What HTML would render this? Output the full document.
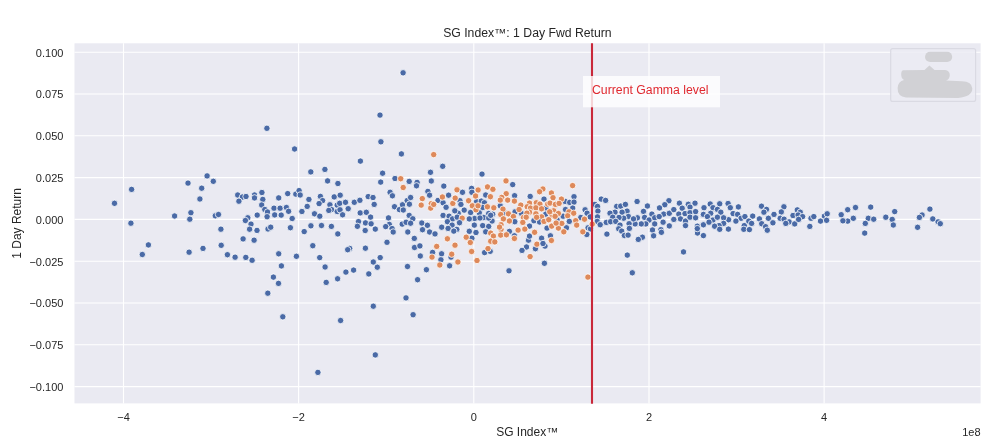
<!DOCTYPE html>
<html lang="en"><head><meta charset="utf-8"><title>SG Index: 1 Day Fwd Return</title>
<style>
html,body{margin:0;padding:0;background:#fff;}
body{width:1000px;height:447px;overflow:hidden;}
svg{display:block;font-family:"Liberation Sans",sans-serif;}
.tk{font-size:11px;fill:#262626;}
.lb{font-size:12px;fill:#262626;}
.b{fill:#4a6aa6;stroke:#fff;stroke-width:.8;}
.o{fill:#de895a;stroke:#fff;stroke-width:.8;}
</style></head><body>
<svg width="1000" height="447" viewBox="0 0 1000 447">
<rect x="0" y="0" width="1000" height="447" fill="#ffffff"/>
<rect x="74.5" y="43.3" width="906.1" height="360.1" fill="#eaeaf2"/>
<path d="M123.5 43.3V403.4M298.6 43.3V403.4M473.8 43.3V403.4M649.0 43.3V403.4M824.1 43.3V403.4M74.5 52.2H980.6M74.5 94.0H980.6M74.5 135.8H980.6M74.5 177.6H980.6M74.5 219.4H980.6M74.5 261.2H980.6M74.5 303.0H980.6M74.5 344.8H980.6M74.5 386.6H980.6" stroke="#ffffff" stroke-width="1.1" fill="none"/>
<text class="tk" x="123.5" y="420.7" text-anchor="middle">−4</text>
<text class="tk" x="298.6" y="420.7" text-anchor="middle">−2</text>
<text class="tk" x="473.8" y="420.7" text-anchor="middle">0</text>
<text class="tk" x="649.0" y="420.7" text-anchor="middle">2</text>
<text class="tk" x="824.1" y="420.7" text-anchor="middle">4</text>
<text class="tk" x="63.4" y="56.6" text-anchor="end">0.100</text>
<text class="tk" x="63.4" y="98.4" text-anchor="end">0.075</text>
<text class="tk" x="63.4" y="140.2" text-anchor="end">0.050</text>
<text class="tk" x="63.4" y="182.0" text-anchor="end">0.025</text>
<text class="tk" x="63.4" y="223.8" text-anchor="end">0.000</text>
<text class="tk" x="63.4" y="265.6" text-anchor="end">−0.025</text>
<text class="tk" x="63.4" y="307.4" text-anchor="end">−0.050</text>
<text class="tk" x="63.4" y="349.2" text-anchor="end">−0.075</text>
<text class="tk" x="63.4" y="391.0" text-anchor="end">−0.100</text>
<text class="tk" x="980.6" y="435.5" text-anchor="end">1e8</text>
<text class="lb" x="527.4" y="36.6" text-anchor="middle" textLength="168.5" lengthAdjust="spacingAndGlyphs">SG Index™: 1 Day Fwd Return</text>
<text class="lb" x="527.2" y="436.4" text-anchor="middle">SG Index™</text>
<text class="lb" transform="translate(21.3 223.4) rotate(-90)" text-anchor="middle">1 Day Return</text>
<g>
<circle class="b" cx="266.9" cy="128.3" r="3.2"/>
<circle class="b" cx="403.1" cy="72.8" r="3.2"/>
<circle class="b" cx="380.0" cy="115.1" r="3.2"/>
<circle class="b" cx="380.9" cy="141.8" r="3.2"/>
<circle class="b" cx="294.6" cy="149.0" r="3.2"/>
<circle class="b" cx="207.1" cy="175.9" r="3.2"/>
<circle class="b" cx="213.3" cy="181.3" r="3.2"/>
<circle class="b" cx="188.0" cy="183.1" r="3.2"/>
<circle class="b" cx="131.6" cy="189.4" r="3.2"/>
<circle class="b" cx="201.7" cy="188.2" r="3.2"/>
<circle class="b" cx="199.9" cy="199.0" r="3.2"/>
<circle class="b" cx="114.5" cy="203.3" r="3.2"/>
<circle class="b" cx="237.7" cy="195.0" r="3.2"/>
<circle class="b" cx="242.4" cy="197.0" r="3.2"/>
<circle class="b" cx="246.0" cy="196.5" r="3.2"/>
<circle class="b" cx="238.9" cy="201.2" r="3.2"/>
<circle class="b" cx="254.5" cy="195.0" r="3.2"/>
<circle class="b" cx="254.5" cy="197.9" r="3.2"/>
<circle class="b" cx="261.9" cy="192.5" r="3.2"/>
<circle class="b" cx="262.8" cy="199.4" r="3.2"/>
<circle class="b" cx="261.7" cy="205.0" r="3.2"/>
<circle class="b" cx="278.7" cy="197.9" r="3.2"/>
<circle class="b" cx="287.7" cy="193.6" r="3.2"/>
<circle class="b" cx="295.8" cy="194.1" r="3.2"/>
<circle class="b" cx="264.8" cy="209.5" r="3.2"/>
<circle class="b" cx="267.5" cy="212.0" r="3.2"/>
<circle class="b" cx="274.0" cy="208.2" r="3.2"/>
<circle class="b" cx="280.1" cy="208.2" r="3.2"/>
<circle class="b" cx="286.4" cy="207.5" r="3.2"/>
<circle class="b" cx="288.6" cy="211.3" r="3.2"/>
<circle class="b" cx="274.7" cy="214.9" r="3.2"/>
<circle class="b" cx="281.2" cy="215.1" r="3.2"/>
<circle class="b" cx="267.1" cy="216.7" r="3.2"/>
<circle class="b" cx="257.2" cy="215.1" r="3.2"/>
<circle class="b" cx="247.8" cy="217.8" r="3.2"/>
<circle class="b" cx="245.4" cy="220.5" r="3.2"/>
<circle class="b" cx="292.2" cy="218.5" r="3.2"/>
<circle class="b" cx="251.0" cy="224.1" r="3.2"/>
<circle class="b" cx="249.6" cy="229.2" r="3.2"/>
<circle class="b" cx="257.0" cy="230.4" r="3.2"/>
<circle class="b" cx="268.0" cy="229.0" r="3.2"/>
<circle class="b" cx="270.7" cy="227.2" r="3.2"/>
<circle class="b" cx="290.4" cy="227.7" r="3.2"/>
<circle class="b" cx="174.6" cy="216.0" r="3.2"/>
<circle class="b" cx="190.9" cy="212.7" r="3.2"/>
<circle class="b" cx="189.8" cy="219.2" r="3.2"/>
<circle class="b" cx="215.3" cy="215.8" r="3.2"/>
<circle class="b" cx="218.5" cy="214.5" r="3.2"/>
<circle class="b" cx="220.9" cy="229.2" r="3.2"/>
<circle class="b" cx="130.9" cy="223.2" r="3.2"/>
<circle class="b" cx="243.1" cy="238.9" r="3.2"/>
<circle class="b" cx="254.1" cy="240.2" r="3.2"/>
<circle class="b" cx="401.4" cy="153.9" r="3.2"/>
<circle class="b" cx="360.4" cy="161.1" r="3.2"/>
<circle class="b" cx="324.9" cy="169.4" r="3.2"/>
<circle class="b" cx="310.8" cy="171.9" r="3.2"/>
<circle class="b" cx="382.6" cy="173.2" r="3.2"/>
<circle class="b" cx="395.0" cy="178.5" r="3.2"/>
<circle class="b" cx="380.7" cy="182.1" r="3.2"/>
<circle class="b" cx="327.6" cy="180.9" r="3.2"/>
<circle class="b" cx="337.9" cy="183.5" r="3.2"/>
<circle class="b" cx="409.2" cy="181.4" r="3.2"/>
<circle class="b" cx="299.1" cy="190.6" r="3.2"/>
<circle class="b" cx="390.1" cy="192.3" r="3.2"/>
<circle class="o" cx="400.7" cy="178.7" r="3.2"/>
<circle class="o" cx="403.2" cy="187.5" r="3.2"/>
<circle class="b" cx="442.7" cy="166.3" r="3.2"/>
<circle class="b" cx="430.5" cy="172.3" r="3.2"/>
<circle class="b" cx="482.0" cy="174.1" r="3.2"/>
<circle class="b" cx="431.3" cy="181.0" r="3.2"/>
<circle class="b" cx="417.1" cy="182.4" r="3.2"/>
<circle class="b" cx="416.5" cy="185.8" r="3.2"/>
<circle class="b" cx="443.8" cy="186.1" r="3.2"/>
<circle class="b" cx="512.7" cy="184.6" r="3.2"/>
<circle class="b" cx="471.6" cy="188.4" r="3.2"/>
<circle class="b" cx="427.9" cy="191.4" r="3.2"/>
<circle class="o" cx="433.7" cy="154.6" r="3.2"/>
<circle class="o" cx="506.0" cy="180.9" r="3.2"/>
<circle class="o" cx="487.5" cy="186.9" r="3.2"/>
<circle class="o" cx="492.9" cy="189.3" r="3.2"/>
<circle class="o" cx="478.1" cy="190.0" r="3.2"/>
<circle class="o" cx="457.0" cy="189.8" r="3.2"/>
<circle class="b" cx="300.2" cy="195.0" r="3.2"/>
<circle class="b" cx="308.9" cy="199.4" r="3.2"/>
<circle class="b" cx="320.4" cy="196.4" r="3.2"/>
<circle class="b" cx="322.6" cy="200.6" r="3.2"/>
<circle class="b" cx="319.1" cy="203.6" r="3.2"/>
<circle class="b" cx="307.2" cy="206.4" r="3.2"/>
<circle class="b" cx="301.9" cy="211.5" r="3.2"/>
<circle class="b" cx="314.5" cy="213.8" r="3.2"/>
<circle class="b" cx="319.8" cy="216.2" r="3.2"/>
<circle class="b" cx="334.2" cy="196.9" r="3.2"/>
<circle class="b" cx="340.2" cy="195.2" r="3.2"/>
<circle class="b" cx="329.9" cy="204.8" r="3.2"/>
<circle class="b" cx="337.2" cy="205.1" r="3.2"/>
<circle class="b" cx="339.7" cy="203.3" r="3.2"/>
<circle class="b" cx="331.6" cy="209.6" r="3.2"/>
<circle class="b" cx="328.8" cy="210.4" r="3.2"/>
<circle class="b" cx="337.2" cy="211.5" r="3.2"/>
<circle class="b" cx="340.0" cy="209.8" r="3.2"/>
<circle class="b" cx="342.6" cy="214.8" r="3.2"/>
<circle class="b" cx="345.5" cy="202.3" r="3.2"/>
<circle class="b" cx="348.2" cy="208.7" r="3.2"/>
<circle class="b" cx="354.3" cy="202.3" r="3.2"/>
<circle class="b" cx="359.9" cy="200.3" r="3.2"/>
<circle class="b" cx="368.2" cy="196.6" r="3.2"/>
<circle class="b" cx="373.0" cy="197.5" r="3.2"/>
<circle class="b" cx="374.2" cy="204.4" r="3.2"/>
<circle class="b" cx="360.2" cy="212.9" r="3.2"/>
<circle class="b" cx="366.3" cy="212.3" r="3.2"/>
<circle class="b" cx="370.6" cy="217.1" r="3.2"/>
<circle class="b" cx="358.5" cy="221.6" r="3.2"/>
<circle class="b" cx="365.5" cy="222.9" r="3.2"/>
<circle class="b" cx="371.1" cy="223.8" r="3.2"/>
<circle class="b" cx="357.4" cy="226.3" r="3.2"/>
<circle class="b" cx="375.3" cy="229.1" r="3.2"/>
<circle class="b" cx="365.2" cy="230.5" r="3.2"/>
<circle class="b" cx="392.4" cy="195.8" r="3.2"/>
<circle class="b" cx="394.5" cy="206.7" r="3.2"/>
<circle class="b" cx="399.4" cy="209.6" r="3.2"/>
<circle class="b" cx="402.5" cy="204.8" r="3.2"/>
<circle class="b" cx="403.3" cy="210.0" r="3.2"/>
<circle class="b" cx="407.2" cy="200.6" r="3.2"/>
<circle class="b" cx="409.4" cy="204.2" r="3.2"/>
<circle class="b" cx="388.5" cy="217.9" r="3.2"/>
<circle class="b" cx="409.2" cy="215.4" r="3.2"/>
<circle class="b" cx="389.3" cy="224.4" r="3.2"/>
<circle class="b" cx="385.7" cy="226.6" r="3.2"/>
<circle class="b" cx="392.1" cy="228.6" r="3.2"/>
<circle class="b" cx="393.2" cy="232.0" r="3.2"/>
<circle class="b" cx="402.2" cy="224.1" r="3.2"/>
<circle class="b" cx="406.1" cy="222.3" r="3.2"/>
<circle class="b" cx="407.8" cy="232.0" r="3.2"/>
<circle class="b" cx="310.9" cy="225.8" r="3.2"/>
<circle class="b" cx="321.5" cy="225.5" r="3.2"/>
<circle class="b" cx="331.4" cy="226.4" r="3.2"/>
<circle class="b" cx="304.2" cy="231.6" r="3.2"/>
<circle class="b" cx="337.8" cy="233.9" r="3.2"/>
<circle class="b" cx="387.0" cy="242.3" r="3.2"/>
<circle class="b" cx="429.6" cy="195.2" r="3.2"/>
<circle class="b" cx="410.6" cy="197.5" r="3.2"/>
<circle class="b" cx="421.8" cy="223.0" r="3.2"/>
<circle class="b" cx="427.4" cy="225.3" r="3.2"/>
<circle class="b" cx="422.5" cy="229.7" r="3.2"/>
<circle class="b" cx="429.6" cy="232.0" r="3.2"/>
<circle class="b" cx="414.3" cy="238.4" r="3.2"/>
<circle class="b" cx="412.8" cy="218.8" r="3.2"/>
<circle class="b" cx="410.6" cy="223.2" r="3.2"/>
<circle class="o" cx="422.3" cy="198.6" r="3.2"/>
<circle class="o" cx="421.2" cy="205.1" r="3.2"/>
<circle class="o" cx="431.3" cy="203.6" r="3.2"/>
<circle class="o" cx="430.7" cy="208.1" r="3.2"/>
<circle class="o" cx="572.6" cy="185.6" r="3.2"/>
<circle class="o" cx="542.9" cy="189.0" r="3.2"/>
<circle class="b" cx="637.1" cy="201.5" r="3.2"/>
<circle class="b" cx="668.9" cy="200.7" r="3.2"/>
<circle class="b" cx="664.8" cy="204.7" r="3.2"/>
<circle class="b" cx="647.4" cy="206.0" r="3.2"/>
<circle class="b" cx="659.5" cy="207.9" r="3.2"/>
<circle class="b" cx="643.5" cy="211.4" r="3.2"/>
<circle class="b" cx="651.9" cy="214.1" r="3.2"/>
<circle class="b" cx="663.7" cy="214.1" r="3.2"/>
<circle class="b" cx="669.3" cy="213.3" r="3.2"/>
<circle class="b" cx="673.8" cy="209.6" r="3.2"/>
<circle class="b" cx="679.4" cy="203.2" r="3.2"/>
<circle class="b" cx="688.3" cy="204.3" r="3.2"/>
<circle class="b" cx="695.0" cy="203.2" r="3.2"/>
<circle class="b" cx="690.0" cy="207.1" r="3.2"/>
<circle class="b" cx="682.2" cy="208.2" r="3.2"/>
<circle class="b" cx="678.8" cy="214.1" r="3.2"/>
<circle class="b" cx="685.0" cy="213.6" r="3.2"/>
<circle class="b" cx="690.0" cy="212.7" r="3.2"/>
<circle class="b" cx="695.6" cy="211.6" r="3.2"/>
<circle class="b" cx="704.0" cy="207.7" r="3.2"/>
<circle class="b" cx="710.2" cy="204.0" r="3.2"/>
<circle class="b" cx="713.0" cy="207.7" r="3.2"/>
<circle class="b" cx="719.7" cy="203.8" r="3.2"/>
<circle class="b" cx="717.4" cy="209.4" r="3.2"/>
<circle class="b" cx="720.8" cy="212.2" r="3.2"/>
<circle class="b" cx="710.7" cy="213.3" r="3.2"/>
<circle class="b" cx="703.4" cy="214.4" r="3.2"/>
<circle class="b" cx="707.4" cy="216.6" r="3.2"/>
<circle class="b" cx="713.0" cy="220.0" r="3.2"/>
<circle class="b" cx="717.4" cy="217.2" r="3.2"/>
<circle class="b" cx="728.1" cy="203.5" r="3.2"/>
<circle class="b" cx="730.3" cy="207.7" r="3.2"/>
<circle class="b" cx="738.4" cy="206.9" r="3.2"/>
<circle class="b" cx="733.1" cy="213.6" r="3.2"/>
<circle class="b" cx="737.6" cy="214.4" r="3.2"/>
<circle class="b" cx="741.0" cy="218.3" r="3.2"/>
<circle class="b" cx="735.9" cy="221.1" r="3.2"/>
<circle class="b" cx="728.6" cy="219.7" r="3.2"/>
<circle class="b" cx="723.6" cy="217.8" r="3.2"/>
<circle class="b" cx="723.6" cy="223.4" r="3.2"/>
<circle class="b" cx="719.1" cy="225.6" r="3.2"/>
<circle class="b" cx="744.9" cy="216.6" r="3.2"/>
<circle class="b" cx="744.3" cy="225.6" r="3.2"/>
<circle class="b" cx="637.4" cy="217.8" r="3.2"/>
<circle class="b" cx="644.6" cy="217.4" r="3.2"/>
<circle class="b" cx="649.1" cy="220.0" r="3.2"/>
<circle class="b" cx="654.7" cy="217.8" r="3.2"/>
<circle class="b" cx="659.2" cy="216.6" r="3.2"/>
<circle class="b" cx="663.1" cy="222.2" r="3.2"/>
<circle class="b" cx="654.7" cy="223.9" r="3.2"/>
<circle class="b" cx="645.8" cy="223.9" r="3.2"/>
<circle class="b" cx="641.3" cy="223.9" r="3.2"/>
<circle class="b" cx="635.1" cy="223.9" r="3.2"/>
<circle class="b" cx="673.8" cy="219.4" r="3.2"/>
<circle class="b" cx="680.5" cy="218.9" r="3.2"/>
<circle class="b" cx="685.5" cy="221.1" r="3.2"/>
<circle class="b" cx="690.0" cy="217.2" r="3.2"/>
<circle class="b" cx="695.6" cy="217.8" r="3.2"/>
<circle class="b" cx="685.5" cy="225.6" r="3.2"/>
<circle class="b" cx="669.3" cy="225.9" r="3.2"/>
<circle class="b" cx="697.3" cy="226.2" r="3.2"/>
<circle class="b" cx="703.4" cy="224.8" r="3.2"/>
<circle class="b" cx="709.0" cy="222.2" r="3.2"/>
<circle class="b" cx="714.6" cy="226.2" r="3.2"/>
<circle class="b" cx="526.5" cy="247.0" r="3.2"/>
<circle class="b" cx="535.4" cy="248.7" r="3.2"/>
<circle class="b" cx="545.0" cy="246.1" r="3.2"/>
<circle class="b" cx="544.4" cy="263.3" r="3.2"/>
<circle class="b" cx="627.3" cy="255.1" r="3.2"/>
<circle class="b" cx="632.3" cy="272.8" r="3.2"/>
<circle class="b" cx="522.0" cy="250.4" r="3.2"/>
<circle class="o" cx="536.9" cy="244.2" r="3.2"/>
<circle class="o" cx="530.1" cy="256.6" r="3.2"/>
<circle class="o" cx="587.9" cy="277.1" r="3.2"/>
<circle class="b" cx="652.5" cy="230.0" r="3.2"/>
<circle class="b" cx="660.9" cy="229.7" r="3.2"/>
<circle class="b" cx="661.4" cy="232.3" r="3.2"/>
<circle class="b" cx="653.6" cy="235.8" r="3.2"/>
<circle class="b" cx="642.4" cy="237.2" r="3.2"/>
<circle class="b" cx="638.3" cy="239.4" r="3.2"/>
<circle class="b" cx="683.5" cy="251.9" r="3.2"/>
<circle class="b" cx="697.5" cy="233.0" r="3.2"/>
<circle class="b" cx="703.4" cy="235.6" r="3.2"/>
<circle class="b" cx="697.3" cy="228.6" r="3.2"/>
<circle class="b" cx="719.7" cy="229.3" r="3.2"/>
<circle class="b" cx="728.4" cy="229.1" r="3.2"/>
<circle class="b" cx="743.8" cy="229.3" r="3.2"/>
<circle class="b" cx="761.5" cy="206.2" r="3.2"/>
<circle class="b" cx="766.5" cy="209.4" r="3.2"/>
<circle class="b" cx="763.9" cy="212.2" r="3.2"/>
<circle class="b" cx="774.0" cy="214.4" r="3.2"/>
<circle class="b" cx="768.4" cy="218.3" r="3.2"/>
<circle class="b" cx="772.9" cy="222.8" r="3.2"/>
<circle class="b" cx="759.4" cy="218.9" r="3.2"/>
<circle class="b" cx="761.7" cy="223.7" r="3.2"/>
<circle class="b" cx="752.7" cy="216.1" r="3.2"/>
<circle class="b" cx="748.8" cy="221.1" r="3.2"/>
<circle class="b" cx="751.6" cy="223.4" r="3.2"/>
<circle class="b" cx="783.9" cy="206.8" r="3.2"/>
<circle class="b" cx="781.3" cy="211.9" r="3.2"/>
<circle class="b" cx="780.2" cy="218.3" r="3.2"/>
<circle class="b" cx="784.1" cy="219.2" r="3.2"/>
<circle class="b" cx="789.1" cy="221.9" r="3.2"/>
<circle class="b" cx="785.8" cy="223.4" r="3.2"/>
<circle class="b" cx="794.7" cy="223.9" r="3.2"/>
<circle class="b" cx="793.0" cy="215.5" r="3.2"/>
<circle class="b" cx="797.3" cy="209.9" r="3.2"/>
<circle class="b" cx="800.3" cy="212.2" r="3.2"/>
<circle class="b" cx="798.1" cy="215.0" r="3.2"/>
<circle class="b" cx="802.6" cy="216.6" r="3.2"/>
<circle class="b" cx="798.6" cy="219.4" r="3.2"/>
<circle class="b" cx="811.0" cy="218.3" r="3.2"/>
<circle class="b" cx="813.8" cy="216.6" r="3.2"/>
<circle class="b" cx="809.8" cy="226.4" r="3.2"/>
<circle class="b" cx="824.4" cy="216.1" r="3.2"/>
<circle class="b" cx="827.2" cy="213.8" r="3.2"/>
<circle class="b" cx="826.6" cy="220.3" r="3.2"/>
<circle class="b" cx="820.5" cy="221.1" r="3.2"/>
<circle class="b" cx="841.2" cy="214.7" r="3.2"/>
<circle class="b" cx="847.7" cy="209.7" r="3.2"/>
<circle class="b" cx="855.5" cy="207.5" r="3.2"/>
<circle class="b" cx="853.3" cy="218.3" r="3.2"/>
<circle class="b" cx="847.7" cy="221.1" r="3.2"/>
<circle class="b" cx="842.9" cy="220.8" r="3.2"/>
<circle class="b" cx="765.6" cy="226.7" r="3.2"/>
<circle class="b" cx="870.7" cy="207.1" r="3.2"/>
<circle class="b" cx="894.7" cy="211.6" r="3.2"/>
<circle class="b" cx="885.8" cy="217.2" r="3.2"/>
<circle class="b" cx="892.2" cy="219.4" r="3.2"/>
<circle class="b" cx="893.3" cy="225.0" r="3.2"/>
<circle class="b" cx="868.3" cy="218.3" r="3.2"/>
<circle class="b" cx="873.7" cy="219.2" r="3.2"/>
<circle class="b" cx="865.3" cy="223.4" r="3.2"/>
<circle class="b" cx="929.9" cy="209.1" r="3.2"/>
<circle class="b" cx="922.1" cy="215.0" r="3.2"/>
<circle class="b" cx="919.4" cy="217.4" r="3.2"/>
<circle class="b" cx="932.8" cy="218.9" r="3.2"/>
<circle class="b" cx="938.1" cy="221.9" r="3.2"/>
<circle class="b" cx="940.3" cy="223.7" r="3.2"/>
<circle class="b" cx="917.6" cy="227.3" r="3.2"/>
<circle class="b" cx="749.4" cy="229.6" r="3.2"/>
<circle class="b" cx="767.3" cy="230.2" r="3.2"/>
<circle class="b" cx="864.7" cy="233.1" r="3.2"/>
<circle class="b" cx="148.4" cy="244.9" r="3.2"/>
<circle class="b" cx="142.3" cy="254.5" r="3.2"/>
<circle class="b" cx="189.1" cy="252.2" r="3.2"/>
<circle class="b" cx="203.0" cy="248.4" r="3.2"/>
<circle class="b" cx="221.2" cy="245.3" r="3.2"/>
<circle class="b" cx="227.4" cy="254.7" r="3.2"/>
<circle class="b" cx="235.1" cy="257.2" r="3.2"/>
<circle class="b" cx="245.8" cy="257.4" r="3.2"/>
<circle class="b" cx="252.1" cy="260.3" r="3.2"/>
<circle class="b" cx="278.7" cy="253.8" r="3.2"/>
<circle class="b" cx="281.4" cy="265.9" r="3.2"/>
<circle class="b" cx="273.4" cy="277.1" r="3.2"/>
<circle class="b" cx="278.5" cy="283.4" r="3.2"/>
<circle class="b" cx="267.8" cy="293.2" r="3.2"/>
<circle class="b" cx="282.8" cy="316.8" r="3.2"/>
<circle class="b" cx="296.4" cy="256.3" r="3.2"/>
<circle class="b" cx="312.8" cy="245.7" r="3.2"/>
<circle class="b" cx="349.7" cy="248.4" r="3.2"/>
<circle class="b" cx="347.7" cy="249.7" r="3.2"/>
<circle class="b" cx="365.4" cy="248.2" r="3.2"/>
<circle class="b" cx="319.7" cy="257.6" r="3.2"/>
<circle class="b" cx="325.1" cy="267.0" r="3.2"/>
<circle class="b" cx="326.2" cy="282.4" r="3.2"/>
<circle class="b" cx="337.6" cy="278.8" r="3.2"/>
<circle class="b" cx="345.9" cy="272.1" r="3.2"/>
<circle class="b" cx="353.6" cy="270.1" r="3.2"/>
<circle class="b" cx="368.8" cy="273.9" r="3.2"/>
<circle class="b" cx="377.3" cy="267.2" r="3.2"/>
<circle class="b" cx="373.3" cy="262.0" r="3.2"/>
<circle class="b" cx="380.2" cy="257.6" r="3.2"/>
<circle class="b" cx="407.5" cy="266.5" r="3.2"/>
<circle class="b" cx="417.6" cy="279.7" r="3.2"/>
<circle class="b" cx="426.4" cy="269.7" r="3.2"/>
<circle class="b" cx="406.0" cy="297.9" r="3.2"/>
<circle class="b" cx="373.3" cy="306.2" r="3.2"/>
<circle class="b" cx="413.1" cy="314.7" r="3.2"/>
<circle class="b" cx="340.6" cy="320.5" r="3.2"/>
<circle class="b" cx="414.5" cy="247.5" r="3.2"/>
<circle class="b" cx="419.9" cy="245.9" r="3.2"/>
<circle class="b" cx="420.3" cy="256.0" r="3.2"/>
<circle class="b" cx="432.6" cy="252.4" r="3.2"/>
<circle class="b" cx="441.6" cy="253.8" r="3.2"/>
<circle class="b" cx="440.9" cy="259.8" r="3.2"/>
<circle class="b" cx="451.0" cy="257.1" r="3.2"/>
<circle class="b" cx="449.6" cy="265.8" r="3.2"/>
<circle class="b" cx="484.6" cy="252.6" r="3.2"/>
<circle class="b" cx="490.2" cy="251.3" r="3.2"/>
<circle class="b" cx="509.0" cy="270.8" r="3.2"/>
<circle class="o" cx="436.7" cy="246.4" r="3.2"/>
<circle class="o" cx="455.0" cy="245.2" r="3.2"/>
<circle class="o" cx="471.6" cy="251.5" r="3.2"/>
<circle class="o" cx="451.7" cy="254.2" r="3.2"/>
<circle class="o" cx="432.0" cy="257.1" r="3.2"/>
<circle class="o" cx="439.8" cy="265.0" r="3.2"/>
<circle class="o" cx="457.9" cy="262.0" r="3.2"/>
<circle class="o" cx="477.0" cy="260.5" r="3.2"/>
<circle class="o" cx="488.0" cy="248.6" r="3.2"/>
<circle class="b" cx="375.3" cy="354.9" r="3.2"/>
<circle class="b" cx="317.9" cy="372.4" r="3.2"/>
<circle class="b" cx="514.6" cy="195.7" r="3.2"/>
<circle class="b" cx="530.2" cy="196.4" r="3.2"/>
<circle class="b" cx="544.0" cy="199.1" r="3.2"/>
<circle class="b" cx="515.1" cy="211.8" r="3.2"/>
<circle class="b" cx="521.5" cy="213.5" r="3.2"/>
<circle class="b" cx="504.7" cy="212.8" r="3.2"/>
<circle class="b" cx="546.0" cy="208.1" r="3.2"/>
<circle class="b" cx="545.7" cy="214.2" r="3.2"/>
<circle class="b" cx="565.5" cy="209.5" r="3.2"/>
<circle class="b" cx="563.1" cy="216.2" r="3.2"/>
<circle class="b" cx="565.1" cy="201.4" r="3.2"/>
<circle class="b" cx="500.3" cy="205.8" r="3.2"/>
<circle class="o" cx="506.2" cy="193.7" r="3.2"/>
<circle class="o" cx="507.7" cy="200.1" r="3.2"/>
<circle class="o" cx="501.7" cy="197.4" r="3.2"/>
<circle class="o" cx="500.3" cy="200.1" r="3.2"/>
<circle class="o" cx="514.4" cy="201.1" r="3.2"/>
<circle class="o" cx="520.8" cy="205.1" r="3.2"/>
<circle class="o" cx="503.0" cy="209.1" r="3.2"/>
<circle class="o" cx="519.1" cy="209.5" r="3.2"/>
<circle class="o" cx="508.4" cy="213.8" r="3.2"/>
<circle class="o" cx="513.4" cy="216.5" r="3.2"/>
<circle class="o" cx="500.7" cy="214.5" r="3.2"/>
<circle class="o" cx="529.5" cy="203.1" r="3.2"/>
<circle class="o" cx="527.2" cy="206.8" r="3.2"/>
<circle class="o" cx="530.5" cy="208.1" r="3.2"/>
<circle class="o" cx="536.3" cy="202.8" r="3.2"/>
<circle class="o" cx="539.9" cy="204.1" r="3.2"/>
<circle class="o" cx="535.9" cy="207.8" r="3.2"/>
<circle class="o" cx="529.5" cy="212.2" r="3.2"/>
<circle class="o" cx="526.9" cy="213.2" r="3.2"/>
<circle class="o" cx="535.9" cy="213.8" r="3.2"/>
<circle class="o" cx="541.6" cy="208.8" r="3.2"/>
<circle class="o" cx="539.6" cy="191.7" r="3.2"/>
<circle class="o" cx="551.4" cy="193.0" r="3.2"/>
<circle class="o" cx="553.0" cy="197.7" r="3.2"/>
<circle class="o" cx="561.4" cy="199.1" r="3.2"/>
<circle class="o" cx="547.7" cy="204.1" r="3.2"/>
<circle class="o" cx="550.0" cy="203.1" r="3.2"/>
<circle class="o" cx="555.4" cy="204.4" r="3.2"/>
<circle class="o" cx="559.1" cy="203.4" r="3.2"/>
<circle class="o" cx="553.7" cy="210.8" r="3.2"/>
<circle class="o" cx="558.4" cy="213.5" r="3.2"/>
<circle class="o" cx="552.0" cy="215.2" r="3.2"/>
<circle class="o" cx="549.7" cy="211.8" r="3.2"/>
<circle class="o" cx="523.5" cy="217.5" r="3.2"/>
<circle class="o" cx="526.2" cy="217.2" r="3.2"/>
<circle class="o" cx="541.6" cy="216.9" r="3.2"/>
<circle class="o" cx="503.4" cy="218.9" r="3.2"/>
<circle class="b" cx="514.8" cy="221.7" r="3.2"/>
<circle class="b" cx="509.4" cy="231.4" r="3.2"/>
<circle class="b" cx="529.5" cy="226.1" r="3.2"/>
<circle class="b" cx="533.9" cy="220.7" r="3.2"/>
<circle class="b" cx="539.6" cy="222.0" r="3.2"/>
<circle class="b" cx="547.0" cy="228.1" r="3.2"/>
<circle class="b" cx="541.6" cy="238.2" r="3.2"/>
<circle class="b" cx="528.5" cy="240.2" r="3.2"/>
<circle class="b" cx="529.5" cy="236.1" r="3.2"/>
<circle class="b" cx="550.4" cy="235.8" r="3.2"/>
<circle class="b" cx="566.5" cy="227.8" r="3.2"/>
<circle class="b" cx="557.1" cy="220.0" r="3.2"/>
<circle class="b" cx="514.4" cy="235.8" r="3.2"/>
<circle class="b" cx="543.0" cy="243.5" r="3.2"/>
<circle class="o" cx="509.4" cy="221.0" r="3.2"/>
<circle class="o" cx="501.0" cy="224.7" r="3.2"/>
<circle class="o" cx="501.0" cy="229.4" r="3.2"/>
<circle class="o" cx="500.7" cy="235.1" r="3.2"/>
<circle class="o" cx="506.4" cy="234.8" r="3.2"/>
<circle class="o" cx="514.4" cy="238.5" r="3.2"/>
<circle class="o" cx="518.1" cy="230.1" r="3.2"/>
<circle class="o" cx="524.8" cy="229.1" r="3.2"/>
<circle class="o" cx="522.8" cy="222.4" r="3.2"/>
<circle class="o" cx="534.6" cy="232.3" r="3.2"/>
<circle class="o" cx="536.6" cy="217.3" r="3.2"/>
<circle class="o" cx="544.0" cy="221.4" r="3.2"/>
<circle class="o" cx="548.7" cy="219.7" r="3.2"/>
<circle class="o" cx="551.7" cy="226.1" r="3.2"/>
<circle class="o" cx="558.4" cy="228.1" r="3.2"/>
<circle class="o" cx="561.8" cy="223.4" r="3.2"/>
<circle class="o" cx="563.8" cy="231.8" r="3.2"/>
<circle class="o" cx="551.4" cy="240.5" r="3.2"/>
<circle class="o" cx="555.1" cy="216.3" r="3.2"/>
<circle class="o" cx="556.1" cy="223.1" r="3.2"/>
<circle class="b" cx="448.6" cy="195.2" r="3.2"/>
<circle class="b" cx="438.0" cy="200.4" r="3.2"/>
<circle class="b" cx="443.1" cy="202.8" r="3.2"/>
<circle class="b" cx="446.1" cy="207.3" r="3.2"/>
<circle class="b" cx="459.9" cy="200.7" r="3.2"/>
<circle class="b" cx="460.9" cy="204.4" r="3.2"/>
<circle class="b" cx="462.5" cy="192.3" r="3.2"/>
<circle class="b" cx="471.9" cy="192.3" r="3.2"/>
<circle class="b" cx="485.7" cy="195.0" r="3.2"/>
<circle class="b" cx="476.6" cy="201.7" r="3.2"/>
<circle class="b" cx="481.3" cy="201.1" r="3.2"/>
<circle class="b" cx="484.4" cy="202.8" r="3.2"/>
<circle class="b" cx="464.2" cy="210.1" r="3.2"/>
<circle class="b" cx="458.2" cy="213.2" r="3.2"/>
<circle class="b" cx="454.8" cy="210.8" r="3.2"/>
<circle class="b" cx="470.6" cy="212.5" r="3.2"/>
<circle class="b" cx="443.1" cy="215.4" r="3.2"/>
<circle class="b" cx="449.1" cy="216.2" r="3.2"/>
<circle class="b" cx="452.5" cy="218.9" r="3.2"/>
<circle class="b" cx="457.2" cy="217.2" r="3.2"/>
<circle class="b" cx="488.7" cy="213.5" r="3.2"/>
<circle class="b" cx="492.7" cy="214.2" r="3.2"/>
<circle class="b" cx="482.7" cy="207.5" r="3.2"/>
<circle class="b" cx="474.6" cy="218.5" r="3.2"/>
<circle class="b" cx="469.3" cy="218.9" r="3.2"/>
<circle class="b" cx="483.7" cy="217.5" r="3.2"/>
<circle class="b" cx="479.3" cy="212.8" r="3.2"/>
<circle class="o" cx="442.4" cy="197.0" r="3.2"/>
<circle class="o" cx="452.8" cy="203.4" r="3.2"/>
<circle class="o" cx="455.2" cy="198.1" r="3.2"/>
<circle class="o" cx="468.6" cy="200.7" r="3.2"/>
<circle class="o" cx="475.6" cy="196.0" r="3.2"/>
<circle class="o" cx="472.3" cy="205.8" r="3.2"/>
<circle class="o" cx="476.0" cy="209.8" r="3.2"/>
<circle class="o" cx="478.0" cy="205.8" r="3.2"/>
<circle class="o" cx="487.4" cy="206.8" r="3.2"/>
<circle class="o" cx="493.8" cy="207.8" r="3.2"/>
<circle class="o" cx="490.4" cy="196.7" r="3.2"/>
<circle class="o" cx="433.7" cy="204.4" r="3.2"/>
<circle class="o" cx="462.2" cy="218.2" r="3.2"/>
<circle class="b" cx="447.4" cy="221.7" r="3.2"/>
<circle class="b" cx="452.1" cy="225.1" r="3.2"/>
<circle class="b" cx="441.7" cy="227.2" r="3.2"/>
<circle class="b" cx="448.1" cy="228.4" r="3.2"/>
<circle class="b" cx="456.8" cy="229.4" r="3.2"/>
<circle class="b" cx="453.8" cy="231.1" r="3.2"/>
<circle class="b" cx="459.5" cy="222.7" r="3.2"/>
<circle class="b" cx="474.3" cy="225.1" r="3.2"/>
<circle class="b" cx="469.3" cy="231.3" r="3.2"/>
<circle class="b" cx="476.0" cy="232.5" r="3.2"/>
<circle class="b" cx="480.0" cy="218.0" r="3.2"/>
<circle class="b" cx="482.7" cy="225.6" r="3.2"/>
<circle class="b" cx="488.7" cy="226.4" r="3.2"/>
<circle class="b" cx="492.1" cy="221.0" r="3.2"/>
<circle class="b" cx="488.7" cy="218.0" r="3.2"/>
<circle class="b" cx="485.7" cy="231.8" r="3.2"/>
<circle class="b" cx="435.0" cy="233.9" r="3.2"/>
<circle class="b" cx="471.9" cy="238.2" r="3.2"/>
<circle class="b" cx="490.7" cy="215.3" r="3.2"/>
<circle class="o" cx="447.4" cy="238.8" r="3.2"/>
<circle class="o" cx="466.2" cy="237.2" r="3.2"/>
<circle class="o" cx="470.3" cy="242.5" r="3.2"/>
<circle class="o" cx="490.7" cy="233.1" r="3.2"/>
<circle class="o" cx="493.4" cy="236.1" r="3.2"/>
<circle class="o" cx="490.7" cy="241.2" r="3.2"/>
<circle class="o" cx="494.8" cy="241.9" r="3.2"/>
<circle class="o" cx="499.5" cy="227.1" r="3.2"/>
<circle class="b" cx="574.0" cy="196.7" r="3.2"/>
<circle class="b" cx="569.7" cy="202.4" r="3.2"/>
<circle class="b" cx="574.0" cy="202.1" r="3.2"/>
<circle class="b" cx="572.7" cy="208.1" r="3.2"/>
<circle class="b" cx="585.1" cy="209.8" r="3.2"/>
<circle class="b" cx="587.1" cy="213.2" r="3.2"/>
<circle class="b" cx="590.2" cy="216.9" r="3.2"/>
<circle class="b" cx="580.8" cy="217.5" r="3.2"/>
<circle class="b" cx="594.9" cy="204.4" r="3.2"/>
<circle class="b" cx="597.5" cy="206.4" r="3.2"/>
<circle class="b" cx="597.9" cy="211.1" r="3.2"/>
<circle class="b" cx="597.5" cy="216.9" r="3.2"/>
<circle class="b" cx="601.2" cy="199.1" r="3.2"/>
<circle class="b" cx="605.6" cy="200.4" r="3.2"/>
<circle class="b" cx="616.7" cy="206.4" r="3.2"/>
<circle class="b" cx="620.7" cy="206.1" r="3.2"/>
<circle class="b" cx="625.4" cy="204.4" r="3.2"/>
<circle class="b" cx="627.1" cy="211.1" r="3.2"/>
<circle class="b" cx="622.1" cy="212.2" r="3.2"/>
<circle class="b" cx="615.0" cy="212.2" r="3.2"/>
<circle class="b" cx="610.0" cy="213.2" r="3.2"/>
<circle class="b" cx="628.4" cy="216.5" r="3.2"/>
<circle class="b" cx="623.7" cy="218.2" r="3.2"/>
<circle class="b" cx="619.0" cy="217.5" r="3.2"/>
<circle class="b" cx="612.7" cy="217.2" r="3.2"/>
<circle class="b" cx="633.5" cy="218.9" r="3.2"/>
<circle class="o" cx="569.0" cy="211.8" r="3.2"/>
<circle class="o" cx="573.7" cy="213.2" r="3.2"/>
<circle class="o" cx="567.7" cy="215.8" r="3.2"/>
<circle class="o" cx="584.5" cy="219.2" r="3.2"/>
<circle class="b" cx="569.3" cy="221.4" r="3.2"/>
<circle class="b" cx="588.1" cy="227.8" r="3.2"/>
<circle class="b" cx="590.5" cy="228.8" r="3.2"/>
<circle class="b" cx="586.8" cy="234.5" r="3.2"/>
<circle class="b" cx="597.2" cy="221.4" r="3.2"/>
<circle class="b" cx="600.2" cy="224.7" r="3.2"/>
<circle class="b" cx="606.3" cy="222.4" r="3.2"/>
<circle class="b" cx="610.6" cy="221.7" r="3.2"/>
<circle class="b" cx="615.7" cy="221.4" r="3.2"/>
<circle class="b" cx="620.0" cy="225.1" r="3.2"/>
<circle class="b" cx="618.7" cy="228.8" r="3.2"/>
<circle class="b" cx="621.7" cy="231.1" r="3.2"/>
<circle class="b" cx="624.4" cy="235.5" r="3.2"/>
<circle class="b" cx="628.1" cy="235.1" r="3.2"/>
<circle class="b" cx="629.1" cy="223.7" r="3.2"/>
<circle class="b" cx="629.4" cy="228.4" r="3.2"/>
<circle class="b" cx="606.9" cy="234.1" r="3.2"/>
<circle class="o" cx="575.7" cy="220.7" r="3.2"/>
<circle class="o" cx="576.7" cy="225.1" r="3.2"/>
<circle class="o" cx="582.8" cy="231.8" r="3.2"/>
<circle class="o" cx="592.2" cy="224.1" r="3.2"/>
</g>
<path d="M592 43.3V403.7" stroke="#c9283a" stroke-width="2.1" fill="none"/>
<rect x="583" y="76" width="137" height="31.3" fill="#ffffff" fill-opacity="0.8"/>
<text x="592" y="93.6" font-size="12" fill="#e0282f" textLength="116.5" lengthAdjust="spacingAndGlyphs">Current Gamma level</text>
<rect x="890.7" y="48.6" width="84.9" height="52.8" rx="2" fill="#ebebf3" fill-opacity="0.85" stroke="#dadae3" stroke-width="1.2"/>
<rect x="925" y="51.8" width="27.2" height="10.2" rx="5.1" fill="#d1d1d5"/>
<path d="M903 70.2 Q901.2 70.5 901.2 74.5 Q901.2 78.5 904 80 Q898 81.5 897.6 88 Q897.4 96.5 906 97.6 L958 98 Q972.4 96.5 972.3 88.5 Q972 81.5 962 81.2 L946 80.6 Q949.8 79 949.8 75 Q949.6 70.4 945 70 L934.5 70 L929.4 65.6 L924.5 70 Z" fill="#d1d1d5"/>
</svg></body></html>
